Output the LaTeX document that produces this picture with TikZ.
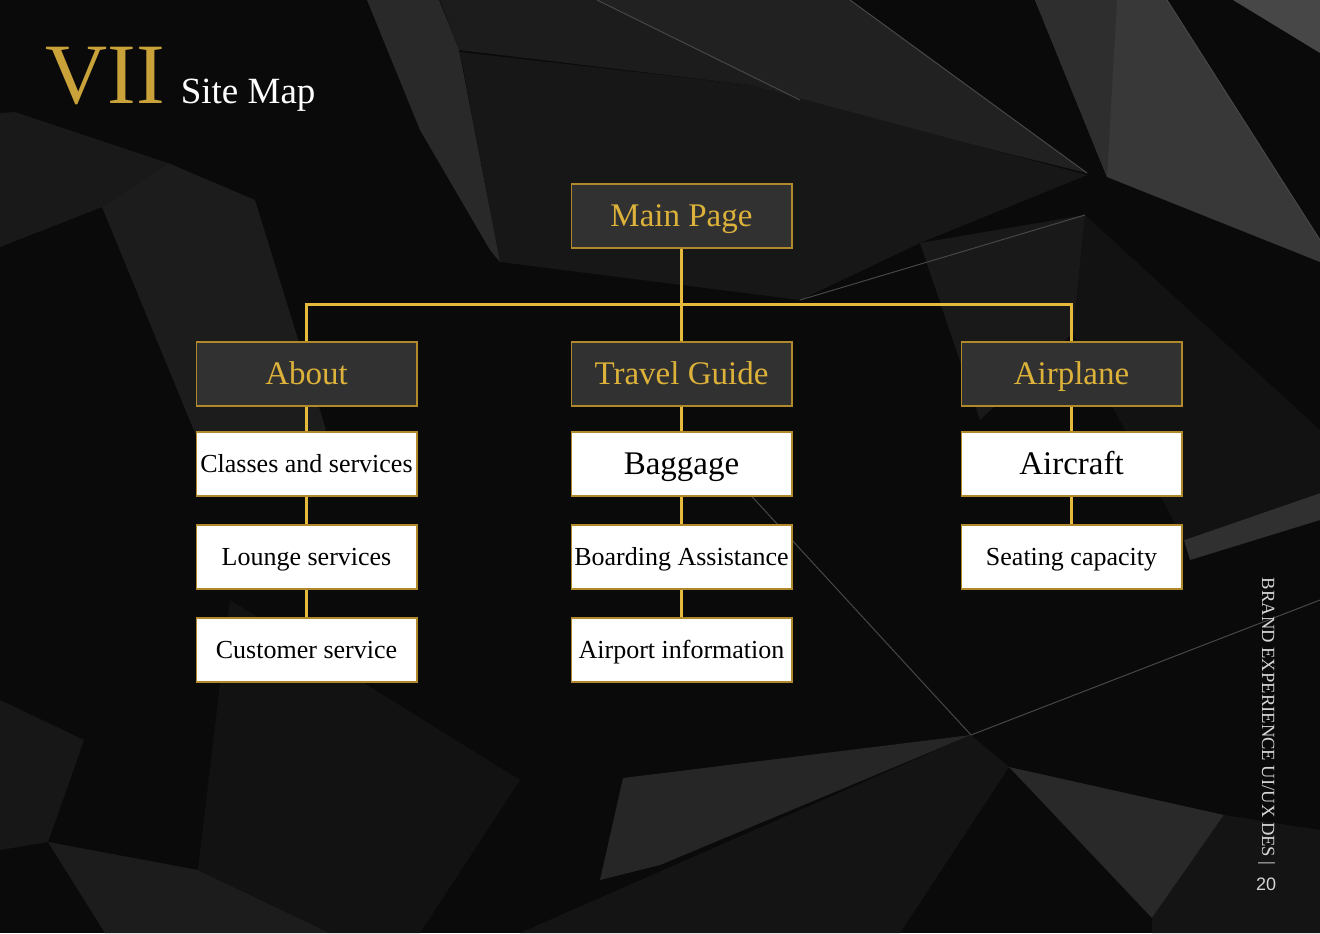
\documentclass[tikz,border=0pt]{standalone}
\usepackage{fontspec}
\setmainfont{Liberation Serif}
\newfontfamily\pagefont{Liberation Sans}
\usetikzlibrary{positioning}
\definecolor{gold}{HTML}{DDB23A}
\definecolor{titlegold}{HTML}{C9A23A}
\definecolor{goldline}{HTML}{E5B93C}
\definecolor{goldedge}{HTML}{B08A2A}
\definecolor{boxgray}{HTML}{313131}
\definecolor{pagegray}{HTML}{D6D6D6}

\begin{document}
\begin{tikzpicture}[x=0.5pt,y=-0.5pt,thick,
  head node/.style={draw=goldedge,line width=0.8pt,fill=boxgray,minimum width=110.2pt,minimum height=32.2pt,inner sep=0pt,text height=10.9pt,text depth=0pt,text=gold,font=\fontsize{16.5}{18}\selectfont},
  sub node/.style={draw=goldedge,line width=0.8pt,fill=white,minimum width=110.2pt,minimum height=32.2pt,inner sep=0pt,text height=8.6pt,text depth=0pt,text=black,font=\fontsize{13}{15}\selectfont},
  big sub/.style={sub node,text height=10.9pt,font=\fontsize{16.5}{18}\selectfont},
  link/.style={draw=goldline,line width=1.5pt},
  facet line/.style={draw=black!72,line width=0.5pt}]

% background facets
\fill[black!96] (0,0) rectangle (1320,933);
\useasboundingbox (0,0) rectangle (1320,933);
\fill[black!78] (1035,0) -- (1167,0) -- (1320,240) -- (1320,262) -- (1107,177) -- cycle;
\fill[black!82] (1035,0) -- (1117,0) -- (1107,177) -- cycle;
\fill[black!72] (1233,0) -- (1320,0) -- (1320,53) -- cycle;
\fill[black!89] (440,0) -- (597,0) -- (800,100) -- (750,85) -- (459,50) -- cycle;
\fill[black!87] (597,0) -- (850,0) -- (1087,173) -- (820,107) -- (800,100) -- cycle;
\fill[black!91] (460,52) -- (750,85) -- (1087,175) -- (920,243) -- (800,300) -- (500,262) -- cycle;
\fill[black!84] (367,0) -- (439,0) -- (459,50) -- (500,262) -- (490,250) -- (420,130) -- cycle;
\fill[black!89] (168,163) -- (255,200) -- (326,430) -- (209,467) -- (102,207) -- cycle;
\fill[black!90] (0,113) -- (15,112) -- (168,163) -- (102,207) -- (0,247) -- cycle;
\fill[black!91] (0,700) -- (84,740) -- (48,842) -- (0,850) -- cycle;
\fill[black!89] (48,842) -- (198,870) -- (330,933) -- (105,933) -- cycle;
\fill[black!93] (230,600) -- (520,780) -- (420,933) -- (330,933) -- (198,870) -- cycle;
\fill[black!85] (623,778) -- (971,735) -- (660,865) -- (600,880) -- cycle;
\fill[black!92] (520,933) -- (971,735) -- (1009,767) -- (900,933) -- cycle;
\fill[black!84] (1009,767) -- (1224,815) -- (1152,918) -- cycle;
\fill[black!81] (1184,540) -- (1320,493) -- (1320,520) -- (1190,560) -- cycle;
\fill[black!92] (1224,815) -- (1320,830) -- (1320,933) -- (1152,933) -- (1152,918) -- cycle;
\fill[black!93] (1085,215) -- (1320,430) -- (1320,493) -- (1184,540) -- (1073,333) -- cycle;
\fill[black!90] (920,243) -- (1085,215) -- (1073,333) -- (980,420) -- cycle;
\draw[facet line] (850,0) -- (1087,173) (597,0) -- (800,100) (1167,0) -- (1320,240)
  (971,735) -- (1320,600) (971,735) -- (700,440) (1085,215) -- (800,300);

% title
\node[anchor=base west,inner sep=0pt,text=titlegold,font=\fontsize{43}{43}\selectfont] (num) at (45,103) {VII};
\node[base right=7pt of num,inner sep=0pt,text=white,font=\fontsize{18.5}{20}\selectfont] (title) {Site Map};

% site map
\node[head node] (main) at (681.5,216) {Main Page};
\node[head node,below=46pt of main] (travel) {Travel Guide};
\node[head node,left=76.5pt of travel] (about) {About};
\node[head node,right=84pt of travel] (airplane) {Airplane};

\node[sub node,below=12pt of about] (classes) {Classes and services};
\node[sub node,below=13.5pt of classes] (lounge) {Lounge services};
\node[sub node,below=13.5pt of lounge] (customer) {Customer service};

\node[big sub,below=12pt of travel] (baggage) {Baggage};
\node[sub node,below=13.5pt of baggage] (boarding) {Boarding Assistance};
\node[sub node,below=13.5pt of boarding] (airport) {Airport information};

\node[big sub,below=12pt of airplane] (aircraft) {Aircraft};
\node[sub node,below=13.5pt of aircraft] (seating) {Seating capacity};

\coordinate (bus) at (681.5,304);
\path[link]
  (main) edge (travel)
  (about) edge (classes)
  (classes) edge (lounge)
  (lounge) edge (customer)
  (travel) edge (baggage)
  (baggage) edge (boarding)
  (boarding) edge (airport)
  (airplane) edge (aircraft)
  (aircraft) edge (seating);
\draw[link] (about.north) |- (bus) -| (airplane.north);

% page footer
\node[rotate=-90,anchor=west,inner sep=0pt,text=pagegray,font=\fontsize{9.3}{10}\selectfont] (brand) at (1266.5,577) {BRAND EXPERIENCE UI/UX DES |};
\node[inner sep=0pt,text=pagegray,font=\pagefont\fontsize{9}{10}\selectfont] (page) at (1266,884) {20};
\end{tikzpicture}
\end{document}
